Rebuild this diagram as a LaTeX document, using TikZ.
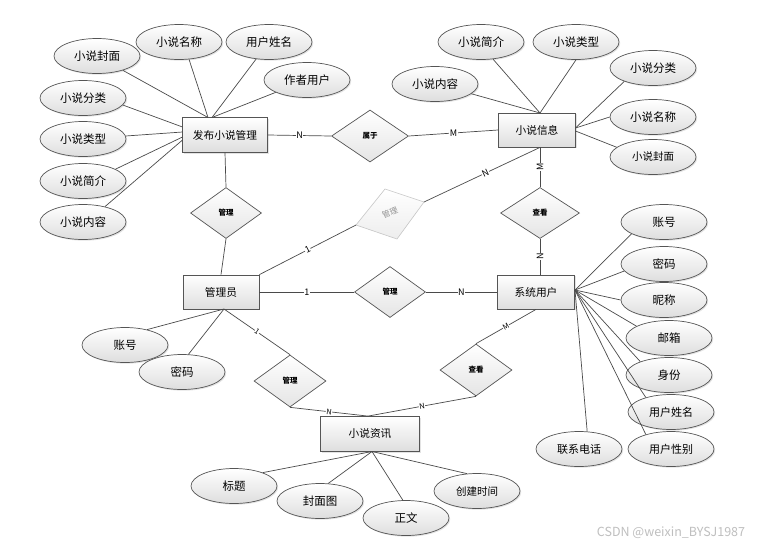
\documentclass[tikz,border=0pt]{standalone}
\usepackage{fontspec}
\setmainfont{Noto Sans CJK SC}
\usetikzlibrary{shapes.geometric,shadows}
\definecolor{edgec}{HTML}{555555}
\definecolor{linec}{HTML}{4A4A4A}
\definecolor{shadegray}{HTML}{DEDEDE}
\tikzset{
  shad/.style={drop shadow={shadow xshift=1.2pt,shadow yshift=-1.2pt,opacity=0.22}},
  ent/.style={rectangle,draw=edgec,line width=0.8pt,top color=white,bottom color=shadegray,inner sep=0pt,
    minimum width=77pt,minimum height=34pt,font=\fontsize{10.7}{12}\selectfont,shad},
  attr/.style={ellipse,draw=edgec,line width=0.7pt,top color=white,bottom color=shadegray,inner sep=0pt,
    minimum width=86pt,minimum height=35pt,font=\fontsize{11.5}{13}\selectfont,shad},
  rel/.style={diamond,draw=edgec,line width=0.7pt,top color=white,bottom color=shadegray!80,inner sep=0pt,
    minimum width=72pt,minimum height=52pt,font=\bfseries\fontsize{7.5}{9}\selectfont},
  conn/.style={draw=linec,line width=0.7pt},
  card/.style={fill=white,inner sep=0.5pt,font=\fontsize{9}{10}\selectfont},
  cards/.style={fill=white,inner sep=0.4pt,font=\fontsize{7.5}{8}\selectfont},
}
\begin{document}
\begin{tikzpicture}[x=1pt,y=-1pt]
\useasboundingbox (0,0) rectangle (768,547);
\fill[white] (0,0) rectangle (768,547);

% entities
\node[ent,minimum width=85pt,minimum height=35pt] (fb) at (225,135) {发布小说管理};
\node[ent] (xx) at (537,130) {小说信息};
\node[ent,minimum width=76pt] (gly) at (221,292) {管理员};
\node[ent] (xtyh) at (536,292) {系统用户};
\node[ent,minimum width=99pt,minimum height=35pt] (zx) at (370,434) {小说资讯};

% relationships
\node[rel,minimum width=77pt] (sy) at (370,136) {属于};
\node[rel,minimum width=71pt,minimum height=51pt] (gl1) at (226,213) {管理};
\node[rel,minimum width=79pt,minimum height=51pt] (ck1) at (540,213) {查看};
\node[rel,minimum width=71pt,minimum height=51pt] (gl2) at (390,292) {管理};
\node[rel] (gl3) at (290,381) {管理};
\node[rel] (ck2) at (476,370) {查看};

% faded relationship
\coordinate (fdT) at (385,189);
\coordinate (fdR) at (424,202);
\coordinate (fdB) at (397,239);
\coordinate (fdL) at (356,225);
\draw[draw=gray!45,line width=0.6pt,top color=white,bottom color=gray!14] (fdT) -- (fdR) -- (fdB) -- (fdL) -- cycle;
\node[rotate=22,text=gray!85,font=\fontsize{8}{9}\selectfont] (fdtxt) at (390,213) {管理};

% attributes of 发布小说管理
\node[attr] (a1) at (97,56) {小说封面};
\node[attr] (a2) at (179,42) {小说名称};
\node[attr] (a3) at (269,42) {用户姓名};
\node[attr] (a4) at (307,80) {作者用户};
\node[attr] (a5) at (83,98) {小说分类};
\node[attr] (a6) at (83,139) {小说类型};
\node[attr] (a7) at (83,181) {小说简介};
\node[attr] (a8) at (83,222) {小说内容};

% attributes of 小说信息
\node[attr] (b1) at (481,42) {小说简介};
\node[attr] (b2) at (576,42) {小说类型};
\node[attr] (b3) at (435,84) {小说内容};
\node[attr] (b4) at (653,68) {小说分类};
\node[attr] (b5) at (653,117) {小说名称};
\node[attr,font=\fontsize{10.5}{12}\selectfont] (b6) at (653,157) {小说封面};

% attributes of 管理员
\node[attr] (c1) at (125,345) {账号};
\node[attr] (c2) at (182,372) {密码};

% attributes of 小说资讯
\node[attr] (d1) at (234,486) {标题};
\node[attr] (d2) at (320,501) {封面图};
\node[attr] (d3) at (406,518) {正文};
\node[attr,font=\fontsize{10.5}{12}\selectfont] (d4) at (477,491) {创建时间};

% attributes of 系统用户
\node[attr] (e1) at (664,222) {账号};
\node[attr] (e2) at (664,264) {密码};
\node[attr] (e3) at (664,300) {昵称};
\node[attr] (e4) at (669,338) {邮箱};
\node[attr] (e5) at (669,375) {身份};
\node[attr,font=\fontsize{11}{12}\selectfont] (e6) at (671,412) {用户姓名};
\node[attr,font=\fontsize{11}{12}\selectfont] (e7) at (671,449) {用户性别};
\node[attr,font=\fontsize{11}{12}\selectfont] (e8) at (579,449) {联系电话};

% connection points
\coordinate (fbA) at (208,117.5);
\coordinate (fbB) at (212,117.5);
\coordinate (fbL1) at (182.5,127);
\coordinate (fbL2) at (182.5,132);
\coordinate (fbL3) at (182.5,137);
\coordinate (fbL4) at (182.5,140);
\coordinate (xxT) at (540,113);
\coordinate (xxR1) at (575.5,128);
\coordinate (xxR2) at (575.5,131);
\coordinate (glyB) at (224,309);
\coordinate (zxB) at (372,451.5);
\coordinate (xtR) at (575,290);

% attribute connectors
\draw[conn] (a1) -- (fbA);
\draw[conn] (a2.300) -- (fbA);
\draw[conn] (a3) -- (fbB);
\draw[conn] (a4) -- (fbB);
\draw[conn] (a5.350) -- (fbL1);
\draw[conn] (a6) -- (fbL2);
\draw[conn] (a7.20) -- (fbL3);
\draw[conn] (a8.35) -- (fbL4);

\draw[conn] (b1.305) -- (xxT);
\draw[conn] (b2.270) -- (xxT);
\draw[conn] (b3.345) -- (xxT);
\draw[conn] (b4.205) -- (xxR1);
\draw[conn] (b5.180) -- (xxR1);
\draw[conn] (b6.165) -- (xxR2);

\draw[conn] (c1.35) -- (glyB);
\draw[conn] (c2.70) -- (glyB);

\draw[conn] (d1.25) -- (zxB);
\draw[conn] (d2.65) -- (zxB);
\draw[conn] (d3.100) -- (zxB);
\draw[conn] (d4.120) -- (zxB);

\draw[conn] (e1.200) -- (xtR);
\draw[conn] (e2.190) -- (xtR);
\draw[conn] (e3.180) -- (xtR);
\draw[conn] (e4.160) -- (xtR);
\draw[conn] (e5.155) -- (xtR);
\draw[conn] (e6.150) -- (xtR);
\draw[conn] (e7.150) -- (xtR);
\draw[conn] (e8.65) -- (xtR);

% relationship connectors
\draw[conn] (fb.east) -- node[card]{N} (sy.west);
\draw[conn] (sy.east) -- node[card]{M} (xx.west);
\draw[conn] (fb.south) -- (gl1.north);
\draw[conn] (gl1.south) -- (gly.north);
\draw[conn] ([xshift=3pt]xx.south) -- node[card,rotate=90]{M} (ck1.north);
\draw[conn] (ck1.south) -- node[card,rotate=90]{N} ([xshift=4pt]xtyh.north);
\draw[conn] (gly.east) -- node[card]{1} (gl2.west);
\draw[conn] (gl2.east) -- node[card]{N} (xtyh.west);
\draw[conn] (gly.north east) -- node[card,sloped]{1} (fdL);
\draw[conn] (fdR) -- node[card,sloped,pos=0.53]{N} ([xshift=3pt]xx.south);
\draw[conn] (glyB) -- node[cards,sloped]{1} (gl3.north);
\draw[conn] (gl3.south) -- node[cards,sloped]{N} ([xshift=-2pt]zx.north);
\draw[conn] (xtyh.south) -- node[cards,sloped]{M} (ck2.north);
\draw[conn] (ck2.south) -- node[cards,sloped]{N} ([xshift=-2pt]zx.north);

% watermark
\node[text=gray!50,font=\fontsize{12.5}{14}\selectfont] (wm) at (671,533) {CSDN @weixin\_BYSJ1987};
\end{tikzpicture}
\end{document}
